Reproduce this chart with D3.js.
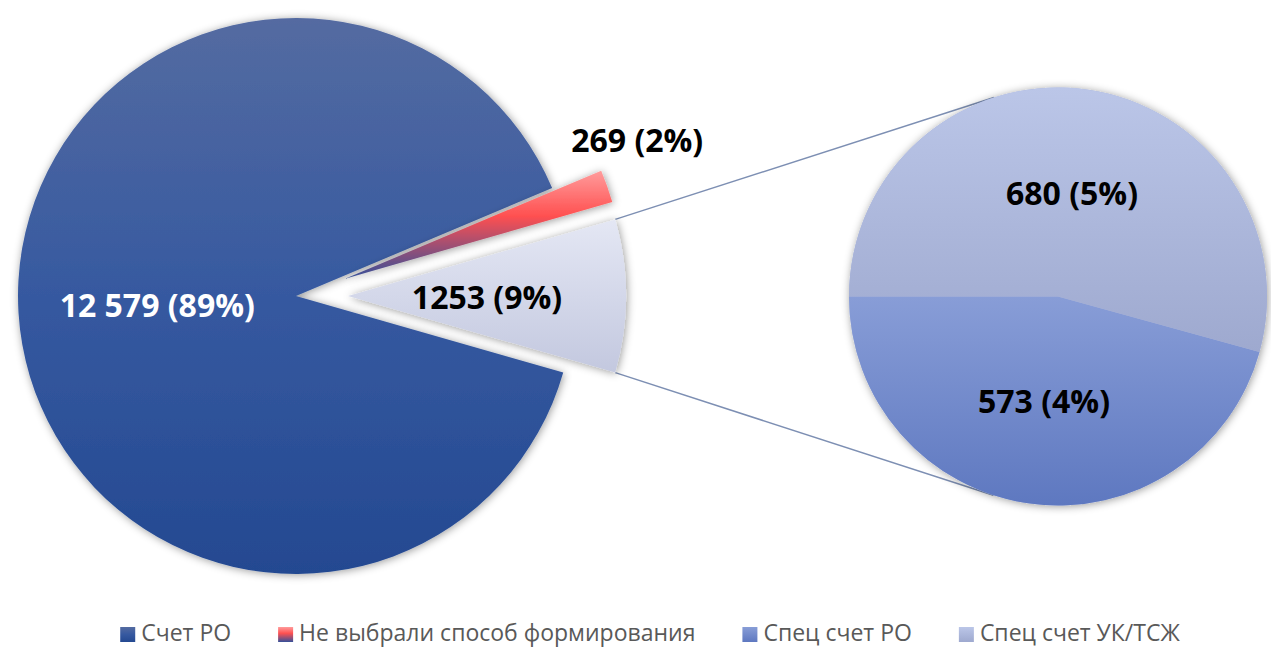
<!DOCTYPE html>
<html>
<head>
<meta charset="utf-8">
<script src="https://cdn.jsdelivr.net/npm/d3@7"></script>
<style>
  html, body { margin: 0; padding: 0; background: #fff; overflow: hidden; }
  text { font-family: "Open Sans", sans-serif; }
</style>
</head>
<body>
<div id="root"></div>
<script>
// Main pie: two own categories plus the "other" slice split into the second pie
const mainCategories = ['Счет РО', 'Не выбрали способ формирования'];
const mainValues = [12579, 269];

// Second pie (the split-out "other" slice)
const subCategories = ['Спец счет РО', 'Спец счет УК/ТСЖ'];
const subValues = [573, 680];

const legendLabels = ['Счет РО', 'Не выбрали способ формирования', 'Спец счет РО', 'Спец счет УК/ТСЖ'];

const width = 1271;
const height = 648;
const cfg = {
  mainCx: 296, mainCy: 296, mainR: 278,
  explode: 52,
  subCx: 1058, subCy: 296.5, subR: 209
};

const svg = d3.select('#root')
  .append('svg:svg')
  .attr('width', width)
  .attr('height', height);

const defs = svg.append('defs');

// vertical gradients, one per slice (objectBoundingBox)
function gradient(id, stops) {
  const g = defs.append('linearGradient')
    .attr('id', id)
    .attr('x1', 0).attr('y1', 0).attr('x2', 0).attr('y2', 1);
  stops.forEach(([o, c]) => g.append('stop').attr('offset', o).attr('stop-color', c));
}
gradient('g-blue', [[0, '#546ba1'], [0.5, '#3659a0'], [1, '#244991']]);
gradient('g-red', [[0, '#ff9c9c'], [0.42, '#ff5050'], [1, '#34509a']]);
gradient('g-other', [[0, '#e4e7f4'], [1, '#c3c8df']]);
gradient('g-uk', [[0, '#bbc6e8'], [1, '#9ea9cf']]);
gradient('g-ro', [[0, '#889dd7'], [1, '#5e78c0']]);

const shadow = defs.append('filter')
  .attr('id', 'shadow')
  .attr('x', '-20%').attr('y', '-20%').attr('width', '140%').attr('height', '140%');
shadow.append('feDropShadow')
  .attr('dx', 1).attr('dy', 1)
  .attr('stdDeviation', 4)
  .attr('flood-color', '#000')
  .attr('flood-opacity', 0.4);

const total = d3.sum(mainValues) + d3.sum(subValues);
const otherValue = d3.sum(subValues);
const fmtGroup = d3.formatLocale({ decimal: ',', thousands: '\u00a0', grouping: [3], currency: ['', ''] }).format(',');
const fmtValue = v => (v >= 10000 ? fmtGroup(v).replace(/\u00a0/g, ' ') : String(v));
const labelText = v => `${fmtValue(v)} (${Math.round(v / total * 100)}%)`;

////// MAIN PIE //////
const mainData = [
  { name: mainCategories[0], value: mainValues[0], fill: 'url(#g-blue)', explode: 0, color: '#fff' },
  { name: mainCategories[1], value: mainValues[1], fill: 'url(#g-red)', explode: cfg.explode, color: '#000', outside: true },
  { name: 'other', value: otherValue, fill: 'url(#g-other)', explode: cfg.explode, color: '#000' }
];

const otherAngle = 2 * Math.PI * otherValue / total;
const start = Math.PI / 2 + otherAngle / 2;
const mainPie = d3.pie()
  .sort(null)
  .value(d => d.value)
  .startAngle(start)
  .endAngle(start + 2 * Math.PI);
const mainArcs = mainPie(mainData);

const mainArc = d3.arc().innerRadius(0).outerRadius(cfg.mainR);

const offset = d => {
  const a = (d.startAngle + d.endAngle) / 2;
  return [Math.sin(a) * d.data.explode, -Math.cos(a) * d.data.explode];
};

// connector lines first (tangent from other slice corners to second pie)
const otherArc = mainArcs[2];
const [ox, oy] = offset(otherArc);
const corner = ang => [cfg.mainCx + ox + Math.sin(ang) * cfg.mainR, cfg.mainCy + oy - Math.cos(ang) * cfg.mainR];
const tangent = (p, sign) => {
  const dx = p[0] - cfg.subCx, dy = p[1] - cfg.subCy;
  const dist = Math.hypot(dx, dy);
  const a = Math.atan2(dy, dx) + sign * Math.acos(cfg.subR / dist);
  return [cfg.subCx + cfg.subR * Math.cos(a), cfg.subCy + cfg.subR * Math.sin(a)];
};
const pTop = corner(otherArc.startAngle);
const pBot = corner(otherArc.endAngle);
const connectors = [[pTop, tangent(pTop, 1)], [pBot, tangent(pBot, -1)]];

const layerLines = svg.append('g');
layerLines.selectAll('line')
  .data(connectors)
  .enter()
    .append('line')
    .attr('x1', d => d[0][0]).attr('y1', d => d[0][1])
    .attr('x2', d => d[1][0]).attr('y2', d => d[1][1])
    .attr('stroke', '#7d8fb3')
    .attr('stroke-width', 1.5);

const mainG = svg.append('g')
  .attr('transform', `translate(${cfg.mainCx},${cfg.mainCy})`);

mainG.selectAll('path')
  .data(mainArcs)
  .enter()
    .append('path')
    .attr('transform', d => `translate(${offset(d)})`)
    .attr('d', mainArc)
    .attr('fill', d => d.data.fill)
    .attr('filter', 'url(#shadow)');

mainG.selectAll('text')
  .data(mainArcs)
  .enter()
    .append('text')
    .attr('transform', d => {
      const [dx, dy] = offset(d);
      if (d.data.outside) {
        const a = (d.startAngle + d.endAngle) / 2;
        const rr = cfg.mainR + 18;
        return `translate(${dx + Math.sin(a) * rr + 13},${dy - Math.cos(a) * rr - 41})`;
      }
      const [cx, cy] = mainArc.centroid(d);
      return `translate(${cx + dx},${cy + dy})`;
    })
    .attr('text-anchor', 'middle')
    .attr('dominant-baseline', 'central')
    .attr('font-size', 32)
    .attr('font-weight', 700)
    .attr('fill', d => d.data.color)
    .text(d => labelText(d.data.value));

////// SECOND PIE //////
const subData = subCategories.map((name, i) => ({
  name, value: subValues[i], fill: i === 0 ? 'url(#g-ro)' : 'url(#g-uk)'
}));
const subPie = d3.pie()
  .sort((a, b) => b.value - a.value)
  .value(d => d.value)
  .startAngle(-Math.PI / 2)
  .endAngle(1.5 * Math.PI);
const subArcs = subPie(subData);
const subArc = d3.arc().innerRadius(0).outerRadius(cfg.subR);

const subG = svg.append('g')
  .attr('transform', `translate(${cfg.subCx},${cfg.subCy})`);

subG.append('circle')
  .attr('r', cfg.subR)
  .attr('fill', '#a9b4da')
  .attr('filter', 'url(#shadow)');

subG.selectAll('path')
  .data(subArcs)
  .enter()
    .append('path')
    .attr('d', subArc)
    .attr('fill', d => d.data.fill);

subG.selectAll('text')
  .data(subArcs)
  .enter()
    .append('text')
    .attr('transform', d => `translate(${subArc.centroid(d)})`)
    .attr('text-anchor', 'middle')
    .attr('dominant-baseline', 'central')
    .attr('font-size', 32)
    .attr('font-weight', 700)
    .attr('fill', '#000')
    .text(d => labelText(d.data.value));

////// LEGEND //////
const legendFills = ['url(#g-blue)', 'url(#g-red)', 'url(#g-ro)', 'url(#g-uk)'];
const legend = svg.append('g');
const items = legend.selectAll('g')
  .data(legendLabels)
  .enter()
    .append('g');

items.append('rect')
  .attr('y', 627)
  .attr('width', 15)
  .attr('height', 15)
  .attr('fill', (d, i) => legendFills[i]);

items.append('text')
  .attr('x', 21)
  .attr('y', 641)
  .attr('font-size', 23)
  .attr('fill', '#595959')
  .text(d => d);

// lay out legend items centred
const gap = 47;
const widths = [];
items.each(function() { widths.push(21 + d3.select(this).select('text').node().getComputedTextLength()); });
const legendW = d3.sum(widths) + gap * (widths.length - 1);
let x = 650 - legendW / 2;
items.attr('transform', (d, i) => {
  const t = `translate(${x},0)`;
  x += widths[i] + gap;
  return t;
});
</script>
</body>
</html>
